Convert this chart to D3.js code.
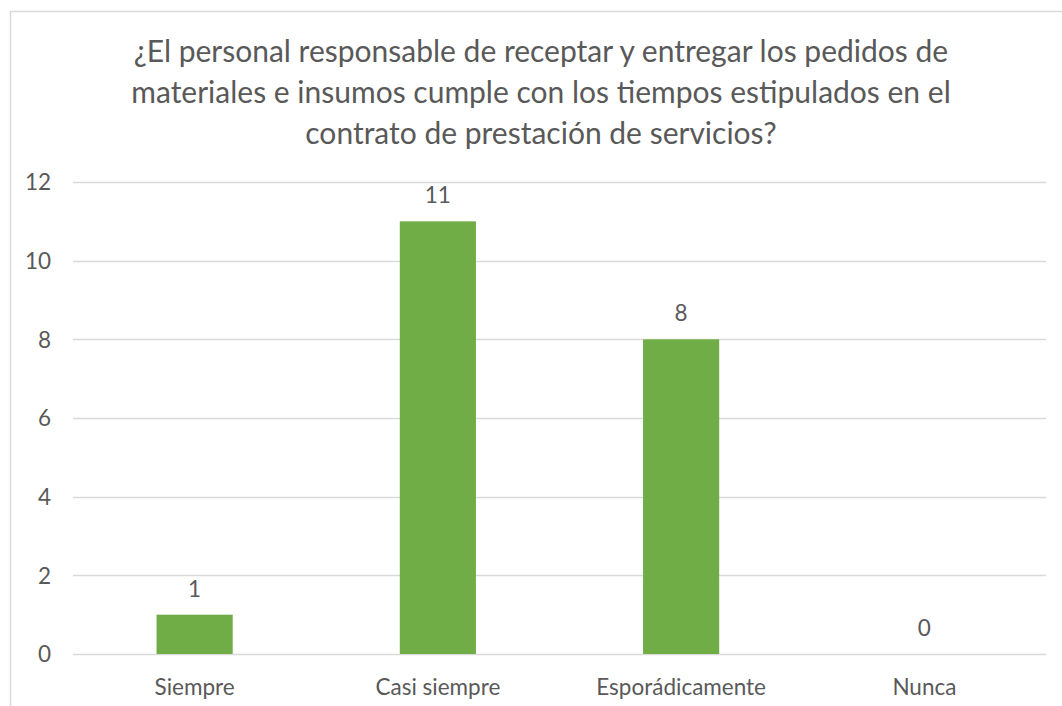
<!DOCTYPE html>
<html>
<head>
<meta charset="utf-8">
<script src="https://cdn.jsdelivr.net/npm/d3@7"></script>
<style>
  html, body { margin: 0; padding: 0; background: #ffffff; }
  svg { display: block; }
  text { font-family: Lato, "Open Sans", sans-serif; fill: #595959; }
</style>
</head>
<body>
<svg id="chart" width="1062" height="706"></svg>
<script>
// Survey answers and their counts
const categories = ["Siempre", "Casi siempre", "Esporádicamente", "Nunca"];
const counts = [1, 11, 8, 0];
const yTicks = [0, 2, 4, 6, 8, 10, 12];
const titleLines = [
  "¿El personal responsable de receptar y entregar los pedidos de",
  "materiales e insumos cumple con los tiempos estipulados en el",
  "contrato de prestación de servicios?"
];

const svg = d3.select("#chart");
const W = 1062, H = 706;
const plot = { left: 73, right: 1046, top: 182, bottom: 654 };
const labelSize = "22.5px";

// chart frame
svg.append("rect")
  .attr("x", 10.5).attr("y", 11.5)
  .attr("width", W + 20).attr("height", H + 20)
  .attr("fill", "#ffffff")
  .attr("stroke", "#d9d9d9").attr("stroke-width", 1.5);

const x = d3.scaleBand()
  .domain(categories)
  .range([plot.left, plot.right])
  .paddingInner(0.687).paddingOuter(0.3435);

const y = d3.scaleLinear()
  .domain([0, 12])
  .range([plot.bottom, plot.top]);

// title
svg.append("g").selectAll("text")
  .data(titleLines)
  .join("text")
  .attr("x", 541)
  .attr("y", (d, i) => 62 + i * 41)
  .attr("text-anchor", "middle")
  .style("font-size", "30px")
  .text(d => d);

// horizontal gridlines
svg.append("g").selectAll("line")
  .data(yTicks)
  .join("line")
  .attr("x1", plot.left).attr("x2", plot.right)
  .attr("y1", d => Math.round(y(d)) + 0.5).attr("y2", d => Math.round(y(d)) + 0.5)
  .attr("stroke", "#d9d9d9").attr("stroke-width", 1.5);

// y axis labels
const yAxis = d3.axisLeft(y).tickValues(yTicks).tickSize(0).tickPadding(0);
svg.append("g")
  .attr("transform", `translate(51,0)`)
  .call(yAxis)
  .call(g => g.select(".domain").remove())
  .call(g => g.selectAll("text")
    .attr("dy", "0.35em")
    .style("font-size", labelSize)
    .style("font-family", "Lato, 'Open Sans', sans-serif")
    .attr("fill", "#595959"));

// bars
svg.append("g").selectAll("rect")
  .data(categories.map((c, i) => ({ c, v: counts[i] })))
  .join("rect")
  .attr("x", d => x(d.c))
  .attr("width", x.bandwidth())
  .attr("y", d => y(d.v))
  .attr("height", d => y(0) - y(d.v))
  .attr("fill", "#70ad47");

// value labels
svg.append("g").selectAll("text")
  .data(categories.map((c, i) => ({ c, v: counts[i] })))
  .join("text")
  .attr("x", d => x(d.c) + x.bandwidth() / 2)
  .attr("y", d => y(d.v) - 18)
  .attr("text-anchor", "middle")
  .style("font-size", labelSize)
  .text(d => d.v);

// category axis labels
const xAxis = d3.axisBottom(x).tickSize(0).tickPadding(0);
svg.append("g")
  .attr("transform", `translate(0,${plot.bottom})`)
  .call(xAxis)
  .call(g => g.select(".domain").remove())
  .call(g => g.selectAll("text")
    .attr("y", 41).attr("dy", 0)
    .style("font-size", labelSize)
    .style("font-family", "Lato, 'Open Sans', sans-serif")
    .attr("fill", "#595959"));
</script>
</body>
</html>
